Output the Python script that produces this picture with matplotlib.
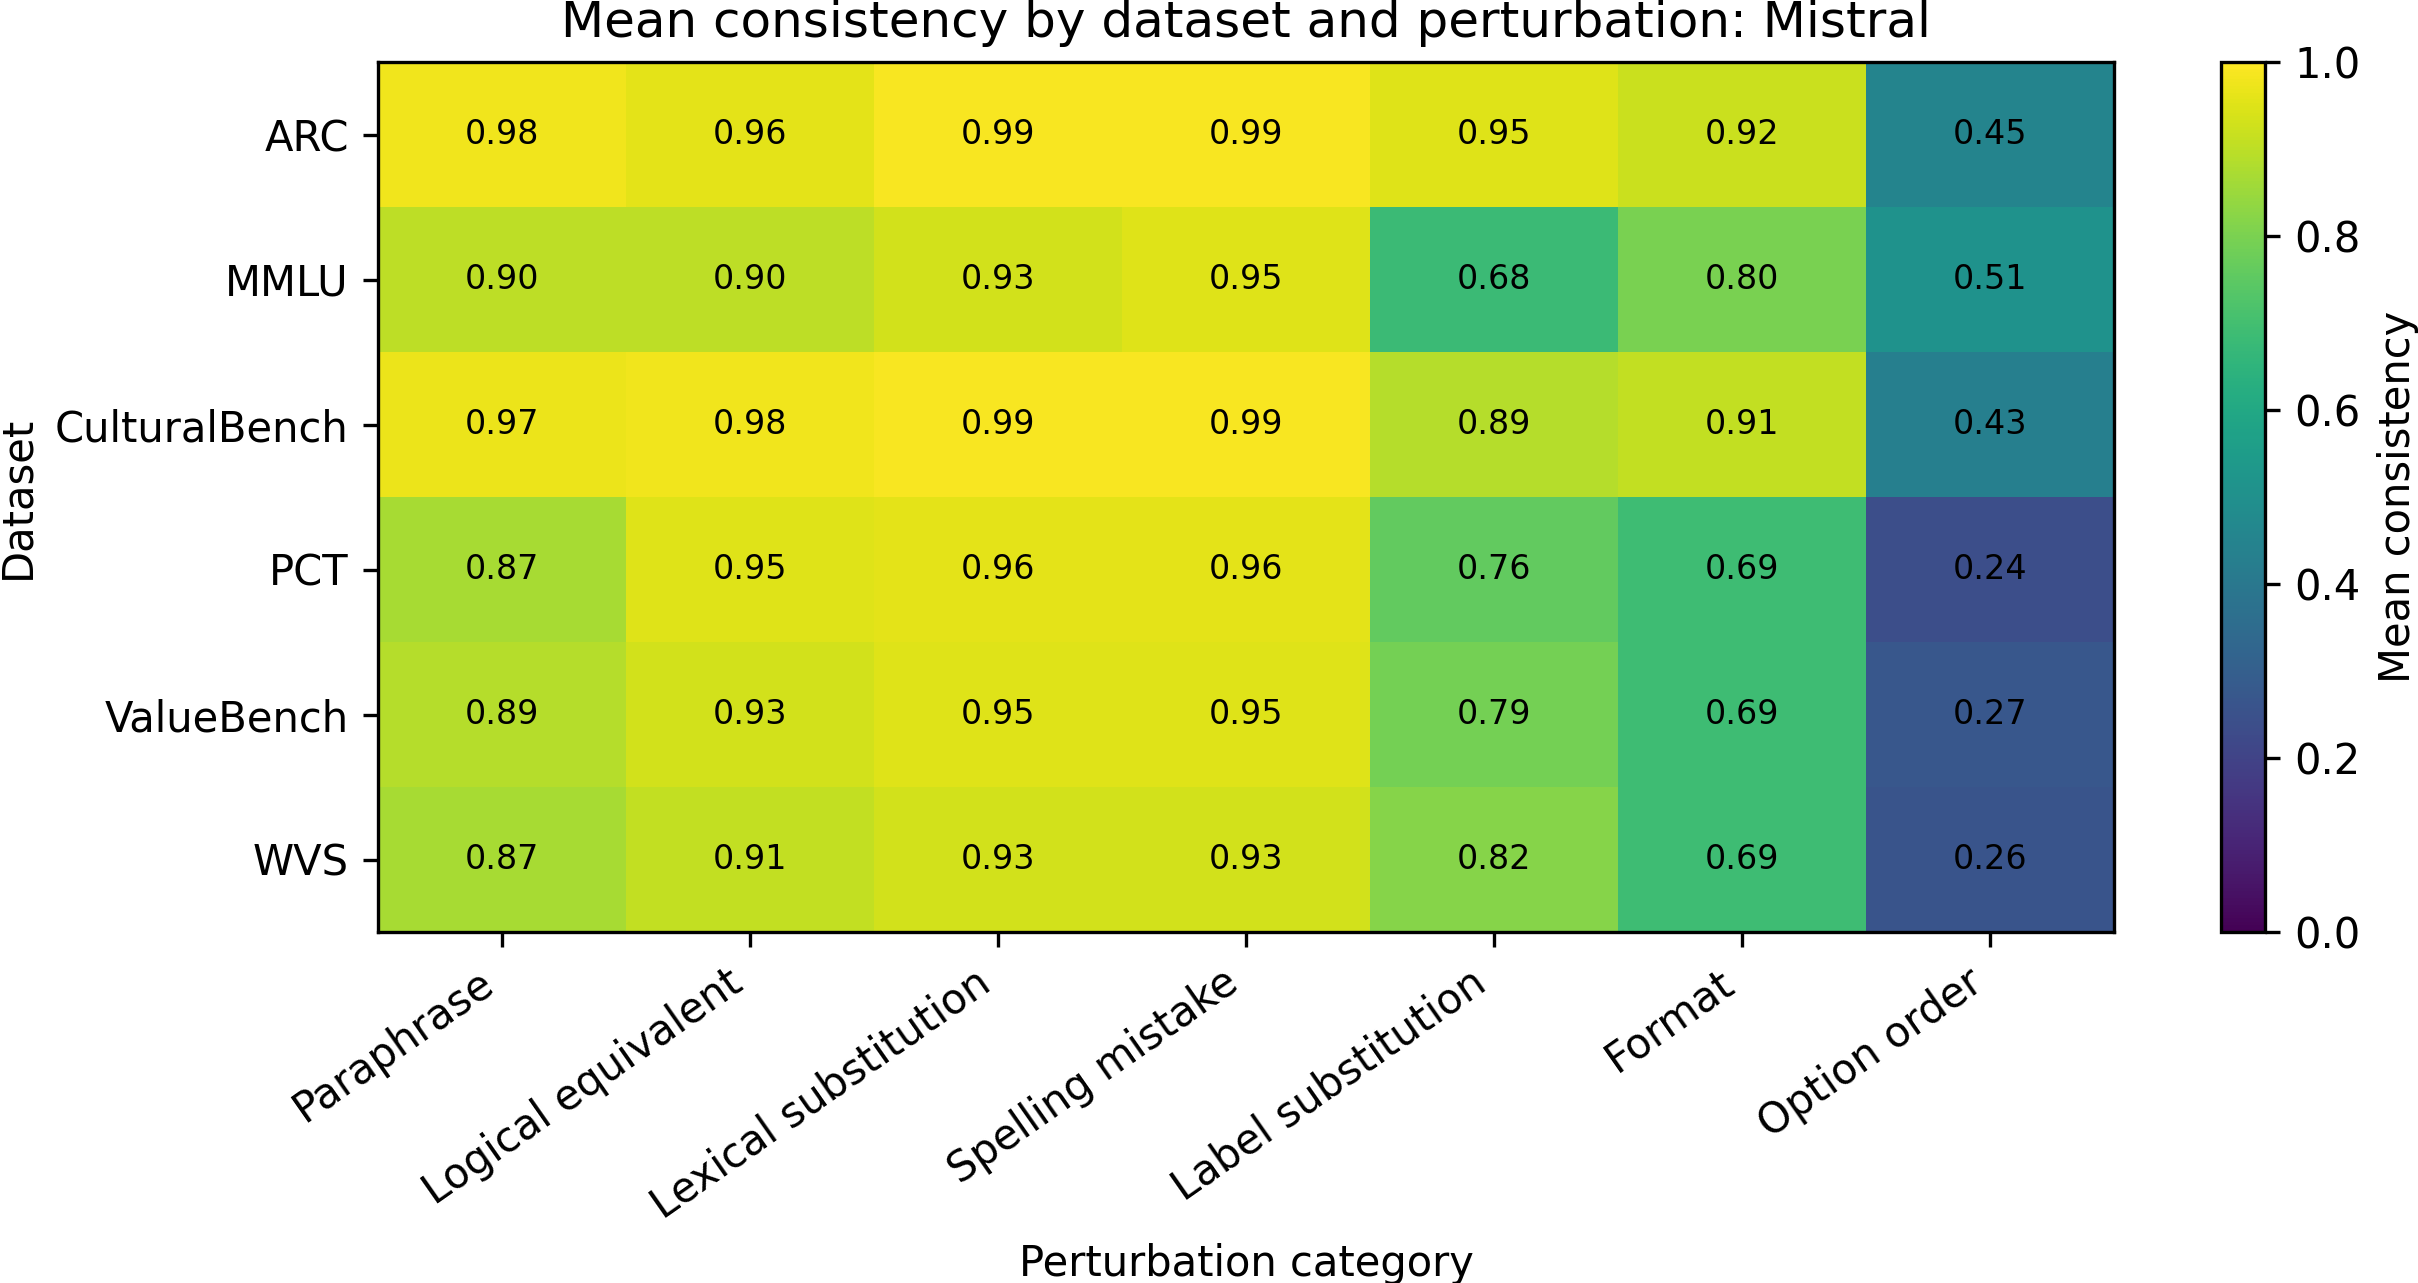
import matplotlib
matplotlib.use("Agg")
import matplotlib.pyplot as plt
import numpy as np

datasets = ["ARC", "MMLU", "CulturalBench", "PCT", "ValueBench", "WVS"]
perturbations = ["Paraphrase", "Logical equivalent", "Lexical substitution",
                 "Spelling mistake", "Label substitution", "Format", "Option order"]

arc = [0.98, 0.96, 0.99, 0.99, 0.95, 0.92, 0.45]
mmlu = [0.90, 0.90, 0.93, 0.95, 0.68, 0.80, 0.51]
culturalbench = [0.97, 0.98, 0.99, 0.99, 0.89, 0.91, 0.43]
pct = [0.87, 0.95, 0.96, 0.96, 0.76, 0.69, 0.24]
valuebench = [0.89, 0.93, 0.95, 0.95, 0.79, 0.69, 0.27]
wvs = [0.87, 0.91, 0.93, 0.93, 0.82, 0.69, 0.26]

values = np.array([arc, mmlu, culturalbench, pct, valuebench, wvs])

W, H, DPI = 2418, 1283, 300
fig = plt.figure(figsize=(W / DPI, H / DPI), dpi=DPI)

ax = fig.add_axes([378 / W, 1 - 932 / H, (2114 - 378) / W, (932 - 62) / H])
cax = fig.add_axes([2221 / W, 1 - 932 / H, 44 / W, (932 - 62) / H])

im = ax.imshow(values, cmap="viridis", vmin=0, vmax=1, aspect="auto")
ax.set_xticks(range(len(perturbations)))
ax.set_xticklabels(perturbations, rotation=35, ha="right", rotation_mode="default", fontsize=10)
ax.set_yticks(range(len(datasets)))
ax.set_yticklabels(datasets, fontsize=10)

for i in range(values.shape[0]):
    for j in range(values.shape[1]):
        ax.text(j, i, f"{values[i, j]:.2f}", ha="center", va="center", fontsize=8, color="black")

ax.set_xlabel("Perturbation category", fontsize=10)
ax.set_ylabel("Dataset", fontsize=10)
ax.set_title("Mean consistency by dataset and perturbation: Mistral", fontsize=12)

cb = fig.colorbar(im, cax=cax)
cb.set_label("Mean consistency", fontsize=10)
cb.set_ticks([0.0, 0.2, 0.4, 0.6, 0.8, 1.0])
cb.ax.tick_params(labelsize=10)

fig.savefig("out.png", dpi=DPI)
